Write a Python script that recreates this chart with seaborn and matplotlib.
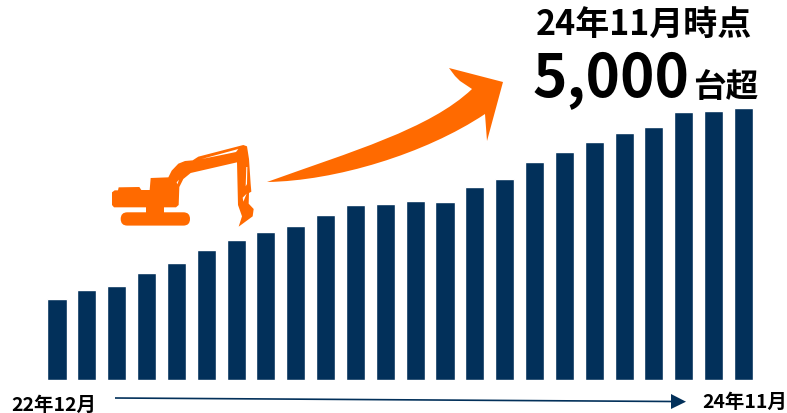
import matplotlib
matplotlib.use("Agg")
import matplotlib.pyplot as plt
import seaborn as sns
import pandas as pd
from matplotlib.patches import Polygon, FancyBboxPatch, PathPatch
from matplotlib.path import Path

months = ["22年12月", "23年1月", "23年2月", "23年3月", "23年4月", "23年5月", "23年6月", "23年7月",
          "23年8月", "23年9月", "23年10月", "23年11月", "23年12月", "24年1月", "24年2月", "24年3月",
          "24年4月", "24年5月", "24年6月", "24年7月", "24年8月", "24年9月", "24年10月", "24年11月"]
machines = [1515, 1683, 1758, 2001, 2188, 2431, 2618, 2768, 2880, 3086, 3273, 3291,
            3347, 3329, 3609, 3759, 4077, 4264, 4451, 4619, 4731, 5012, 5030, 5086]

NAVY = "#02305A"
ORANGE = "#FF6A00"
FONT = ["Noto Sans CJK JP", "DejaVu Sans"]

sns.set_theme(style="white")
plt.rcParams["font.family"] = FONT

W, H = 787, 414
fig = plt.figure(figsize=(W / 100, H / 100), dpi=100, facecolor="white")

# Bar panel: baseline sits at y=381 px, bars span x=42..758 px
ax = fig.add_axes([42.1 / W, (H - 381) / H, (758.4 - 42.1) / W, 381 / H])
df = pd.DataFrame({"month": months, "machines": machines})
sns.barplot(data=df, x="month", y="machines", color=NAVY, saturation=1, width=0.64, ax=ax)
ax.set_xlim(-0.5, 23.5)
ax.set_ylim(0, 381 * 18.7)
ax.axis("off")

# Annotation layer in pixel units
ov = fig.add_axes([0, 0, 1, 1], zorder=5)
ov.set_xlim(0, W)
ov.set_ylim(H, 0)
ov.axis("off")
ov.patch.set_alpha(0)

# Sweeping growth arrow built from two cubic edges and a straight-sided head
C4, LN = Path.CURVE4, Path.LINETO
arrow_pts = [(267, 183), (350, 153), (430, 130), (472, 90),
             (460, 82), (455, 77), (449, 69),
             (503, 83), (487, 142), (485, 115),
             (425, 155), (335, 182), (267, 183), (267, 183)]
arrow_codes = [Path.MOVETO, C4, C4, C4, LN, LN, LN, LN, LN, LN, C4, C4, C4, Path.CLOSEPOLY]
ov.add_patch(PathPatch(Path(arrow_pts, arrow_codes), fc=ORANGE, ec="none"))

# Excavator silhouette, outline given in a local grid
def ex(points):
    return [(100 + x / 3, 130 + y / 3) for x, y in points]

ov.add_patch(FancyBboxPatch((120.7, 213.3), 69.3, 13.3,
                            boxstyle="round,pad=0,rounding_size=6.6", mutation_scale=1,
                            fc=ORANGE, ec="none", linewidth=0))
body = [(138, 255), (138, 235), (42, 235), (36, 228), (36, 190), (44, 184), (54, 184), (56, 175),
        (118, 174), (124, 183), (149, 183), (152, 147), (205, 145), (215, 125), (235, 104),
        (255, 96), (278, 94), (295, 83), (430, 48), (441, 52), (447, 90), (452, 165), (454, 188),
        (447, 192), (446, 224), (461, 240), (458, 262), (416, 293), (426, 262), (414, 228),
        (411, 100), (272, 132), (250, 150), (238, 174), (236, 228), (228, 235), (192, 235), (192, 255)]
ov.add_patch(Polygon(ex(body), closed=True, fc=ORANGE, ec="none"))
for hole in ([(305, 90), (415, 60), (408, 69), (355, 80)],
             [(439, 114), (442, 114), (441, 165), (437, 172)],
             [(440, 194), (430, 218), (428, 206)],
             [(230, 160), (237, 152), (232, 166)]):
    ov.add_patch(Polygon(ex(hole), closed=True, fc="white", ec="none"))

# Timeline arrow under the bars
ov.plot([115, 672], [399, 402.5], color=NAVY, lw=1.2, solid_capstyle="butt")
ov.add_patch(Polygon([(671, 395), (686, 402.7), (671, 410)], closed=True, fc=NAVY, ec="none"))

# Labels
txt = dict(color="black", fontweight="bold", family=FONT)
ov.text(644, 25, "24年11月時点", fontsize=24.5, ha="center", va="center", **txt)
ov.text(533, 97, "5,000", fontsize=42, ha="left", va="baseline", **txt)
ov.text(693, 97, "台超", fontsize=23.5, ha="left", va="baseline", **txt)
ov.text(11, 411, "22年12月", fontsize=14, ha="left", va="baseline", **txt)
ov.text(702, 408, "24年11月", fontsize=14, ha="left", va="baseline", **txt)

fig.savefig("out.png", dpi=100, facecolor="white")
